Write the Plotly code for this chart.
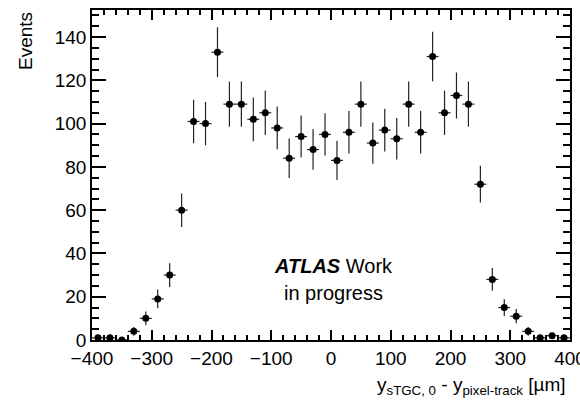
import numpy as np
import plotly.graph_objects as go

bin_centers = list(range(-390, 400, 20))
counts = [1, 1, 0, 4, 10, 19, 30, 60, 101, 100,
          133, 109, 109, 102, 105, 98, 84, 94, 88, 95,
          83, 96, 109, 91, 97, 93, 109, 96, 131, 105,
          113, 109, 72, 28, 15, 11, 4, 1, 2, 1]
bin_half_width = [10] * len(bin_centers)
x_tick_vals = [-400, -300, -200, -100, 0, 100, 200, 300, 400]
y_tick_vals = [0, 20, 40, 60, 80, 100, 120, 140]
x_minor_vals = list(range(-400, 401, 20))
y_minor_vals = list(range(0, 151, 5))

errors = [float(np.sqrt(c)) for c in counts]

FONT = "Liberation Sans, Arial, Helvetica, sans-serif"
X_RANGE = [-400, 400]
Y_RANGE = [0, 152.5]

fig = go.Figure()
fig.add_trace(go.Scatter(
    x=bin_centers, y=counts, mode="markers",
    marker=dict(color="black", size=7),
    error_y=dict(type="data", array=errors, visible=True, width=0, thickness=1.2, color="#222"),
    error_x=dict(type="data", array=bin_half_width, visible=True, width=0, thickness=1.2, color="#222"),
    showlegend=False,
))
# empty trace that carries the overlaid minor-tick axes
fig.add_trace(go.Scatter(x=[], y=[], xaxis="x2", yaxis="y2", showlegend=False, hoverinfo="skip"))

common = dict(showgrid=False, zeroline=False, automargin=False, tickcolor="black", tickwidth=1.5)

fig.update_layout(
    width=580, height=403,
    margin=dict(l=92, r=10, t=10, b=63, autoexpand=False),
    plot_bgcolor="white", paper_bgcolor="white",
    font=dict(family=FONT, size=19, color="black"),
    xaxis=dict(
        range=X_RANGE, tickmode="array", tickvals=x_tick_vals, ticks="inside", ticklen=10,
        showline=True, linecolor="black", linewidth=1.5, mirror="allticks",
        ticklabeloverflow="allow", tickfont=dict(family=FONT, size=19, color="black"), **common,
    ),
    yaxis=dict(
        range=Y_RANGE, tickmode="array", tickvals=y_tick_vals, ticks="inside", ticklen=14,
        showline=True, linecolor="black", linewidth=1.5, mirror="allticks",
        tickfont=dict(family=FONT, size=19, color="black"), **common,
    ),
    xaxis2=dict(
        range=X_RANGE, overlaying="x", anchor="y2", side="bottom",
        tickmode="array", tickvals=x_minor_vals, ticks="inside", ticklen=5,
        showticklabels=False, showline=False, mirror="allticks", **common,
    ),
    yaxis2=dict(
        range=Y_RANGE, overlaying="y", anchor="x2", side="left",
        tickmode="array", tickvals=y_minor_vals, ticks="inside", ticklen=7,
        showticklabels=False, showline=False, mirror="allticks", **common,
    ),
)

fig.add_annotation(
    text="y<sub>sTGC, 0</sub> - y<sub>pixel-track</sub> [\u00b5m]",
    xref="paper", yref="paper", x=1, y=0, xanchor="right", yanchor="top",
    xshift=-2, yshift=-32, showarrow=False, font=dict(family=FONT, size=19, color="black"),
)
fig.add_annotation(
    text="Events", textangle=-90,
    xref="paper", yref="paper", x=0, y=1, xanchor="center", yanchor="top",
    xshift=-67, yshift=0, showarrow=False, font=dict(family=FONT, size=19, color="black"),
)
fig.add_annotation(
    text="<b><i>ATLAS</i></b> Work", xref="x", yref="y", x=4, y=34,
    showarrow=False, font=dict(family=FONT, size=20, color="black"), xanchor="center", yanchor="middle",
)
fig.add_annotation(
    text="in progress", xref="x", yref="y", x=4, y=21.5,
    showarrow=False, font=dict(family=FONT, size=20, color="black"), xanchor="center", yanchor="middle",
)

fig.write_html("out.html")
